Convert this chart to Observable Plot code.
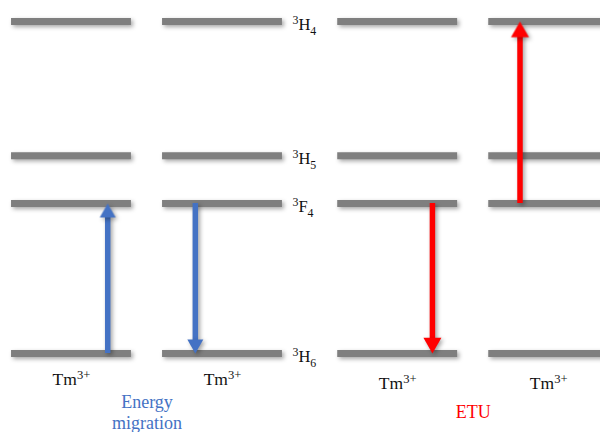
<!DOCTYPE html>
<html>
<head>
<meta charset="utf-8">
<script src="https://cdn.jsdelivr.net/npm/d3@7"></script>
<script src="https://cdn.jsdelivr.net/npm/@observablehq/plot@0.6"></script>
<style>
  html, body { margin: 0; padding: 0; background: #fff; }
  #chart { width: 600px; height: 432px; }
</style>
</head>
<body>
<div id="chart"></div>
<script>
// ---- Data ----
const levels   = ["³H₆", "³F₄", "³H₅", "³H₄"];
const energies = [0, 4.52, 5.96, 10];           // relative energy (arbitrary units)
const ions     = ["Tm³⁺", "Tm³⁺", "Tm³⁺", "Tm³⁺"];
const ionGroup = [0, 0, 1, 1];
const groups   = ["Energy\nmigration", "ETU"];
const arrowIon  = [0, 1, 2, 3];
const arrowFrom = ["³H₆", "³F₄", "³F₄", "³F₄"];
const arrowTo   = ["³F₄", "³H₆", "³H₆", "³H₄"];

// ---- Derived tables ----
const groupGap = 0.16, halfW = 0.397;
const arrowShift = [0.24, -0.18, 0.23, -0.19];  // where along each level bar the arrow sits
const energyOf = Object.fromEntries(levels.map((l, i) => [l, energies[i]]));
const ionX = ions.map((_, i) => i + groupGap * ionGroup[i]);
const groupColor = ["#4472C4", "#FF0000"];

const bars = [];
ions.forEach((ion, i) => levels.forEach((lv, j) => bars.push({
  x1: ionX[i] - halfW, x2: ionX[i] + halfW, y: energies[j], level: lv
})));
const ionLabels = ions.map((ion, i) => ({x: ionX[i], y: energies[0], label: ion, group: ionGroup[i]}));
const levelLabels = levels.map((lv, j) => ({x: ionX[1] + halfW, y: energies[j], label: lv}));
const groupLabels = groups.map((g, k) => {
  const xs = ionX.filter((_, i) => ionGroup[i] === k);
  return {x: d3.mean(xs), y: energies[0], label: g, color: groupColor[k]};
});
const arrows = arrowIon.map((ion, k) => {
  const from = energyOf[arrowFrom[k]], to = energyOf[arrowTo[k]];
  return {x: ionX[ion] + arrowShift[k], from, to, up: to > from,
          top: Math.max(from, to), bottom: Math.min(from, to),
          color: groupColor[ionGroup[ion]], head: ionGroup[ion] === 0 ? 8 : 9};
});

const triUp = {draw(ctx, size) { const r = Math.sqrt(size / Math.PI); const h = 1.75 * r;
  ctx.moveTo(0, 0); ctx.lineTo(-r, h); ctx.lineTo(r, h); ctx.closePath(); }};
const triDown = {draw(ctx, size) { const r = Math.sqrt(size / Math.PI); const h = 1.75 * r;
  ctx.moveTo(0, 0); ctx.lineTo(-r, -h); ctx.lineTo(r, -h); ctx.closePath(); }};

const serif = "'Liberation Serif', 'Times New Roman', serif";

const plot = Plot.plot({
  width: 600,
  height: 432,
  margin: 0,
  style: {fontFamily: serif, background: "white"},
  x: {domain: [-0.470, 3.503], axis: null},
  y: {domain: [0, 10], range: [353, 21], axis: null},
  r: {type: "identity"},
  marks: [
    Plot.ruleY(bars, {x1: "x1", x2: "x2", y: "y", stroke: "#7f7f7f", strokeWidth: 7}),
    Plot.ruleX(arrows.filter(d => d.up), {x: "x", y1: "top", y2: "bottom", stroke: "color", strokeWidth: 5.5, insetTop: 12}),
    Plot.ruleX(arrows.filter(d => !d.up), {x: "x", y1: "top", y2: "bottom", stroke: "color", strokeWidth: 5.5, insetBottom: 12}),
    Plot.dot(arrows.filter(d => d.up), {x: "x", y: "to", r: "head", fill: "color", stroke: null, symbol: triUp}),
    Plot.dot(arrows.filter(d => !d.up), {x: "x", y: "to", r: "head", fill: "color", stroke: null, symbol: triDown}),
    Plot.text(levelLabels, {x: "x", y: "y", text: "label", textAnchor: "start", dx: 10, dy: 3, fontSize: 16.5, fill: "#111"}),
    Plot.text(ionLabels.filter(d => d.group === 0), {x: "x", y: "y", text: "label", dy: 26, fontSize: 17.5, fill: "#111"}),
    Plot.text(ionLabels.filter(d => d.group === 1), {x: "x", y: "y", text: "label", dy: 30, fontSize: 17.5, fill: "#111"}),
    Plot.text(groupLabels, {x: "x", y: "y", text: "label", fill: "color", dy: 58, fontSize: 18, lineHeight: 1.2})
  ]
});
plot.querySelectorAll('g[aria-label="rule"], g[aria-label="dot"]').forEach(g => {
  g.style.filter = "drop-shadow(2px 2px 2px rgba(0,0,0,0.35))";
});
document.getElementById("chart").appendChild(plot);

// super/subscript rendering
const SUP = {"⁰":"0","¹":"1","²":"2","³":"3","⁴":"4","⁵":"5","⁶":"6","⁷":"7","⁸":"8","⁹":"9","⁺":"+","⁻":"−"};
const SUB = {"₀":"0","₁":"1","₂":"2","₃":"3","₄":"4","₅":"5","₆":"6","₇":"7","₈":"8","₉":"9"};
const NS = "http://www.w3.org/2000/svg";
plot.querySelectorAll("text").forEach(el => {
  if (el.children.length) return;
  const s = el.textContent;
  if (![...s].some(c => SUP[c] || SUB[c])) return;
  const fs = parseFloat(getComputedStyle(el).fontSize);
  const segs = [];
  for (const c of s) {
    const t = SUP[c] ? "sup" : SUB[c] ? "sub" : "n";
    const ch = SUP[c] || SUB[c] || c;
    if (segs.length && segs[segs.length - 1].t === t) segs[segs.length - 1].s += ch;
    else segs.push({t, s: ch});
  }
  el.textContent = "";
  let shift = 0;
  for (const g of segs) {
    const target = g.t === "sup" ? -0.33 * fs : g.t === "sub" ? 0.3 * fs : 0;
    const ts = document.createElementNS(NS, "tspan");
    ts.setAttribute("dy", (target - shift).toFixed(2));
    shift = target;
    if (g.t !== "n") ts.setAttribute("font-size", (0.72 * fs).toFixed(2));
    ts.textContent = g.s;
    el.appendChild(ts);
  }
});
</script>
</body>
</html>
